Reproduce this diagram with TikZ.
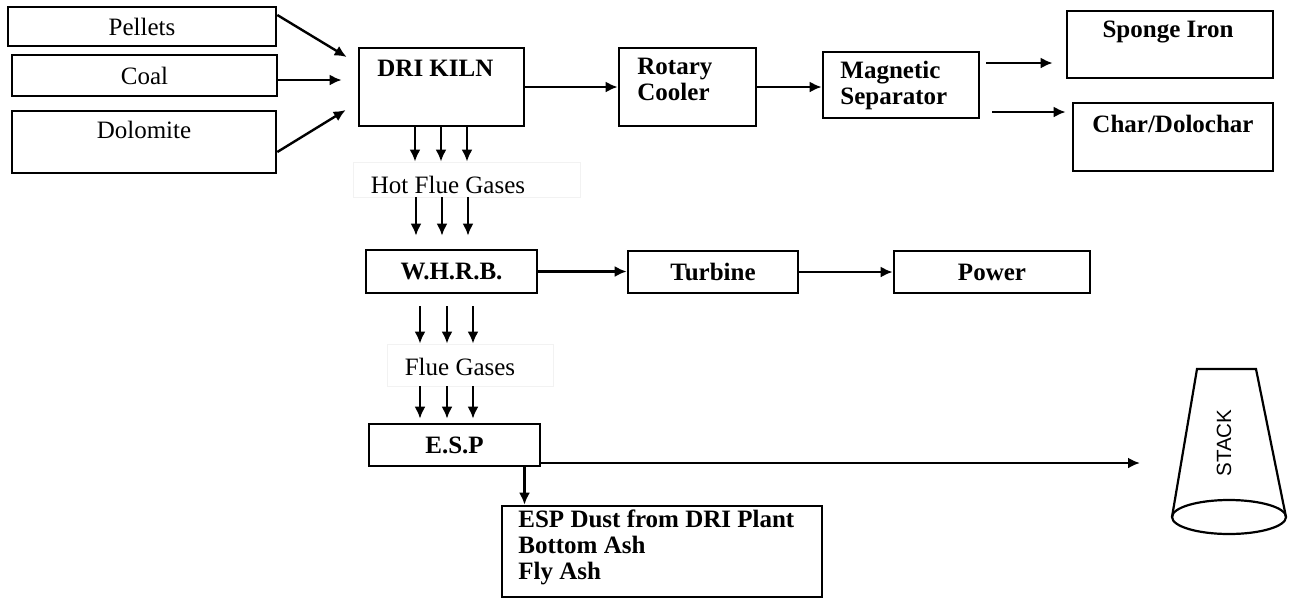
\documentclass[tikz,border=0pt]{standalone}
\usepackage{fontspec}
\setmainfont{Liberation Serif}
\setsansfont{Liberation Sans}
\usetikzlibrary{arrows.meta}

\begin{document}
\begin{tikzpicture}[
    x=0.5pt, y=-0.5pt,
    box/.style={draw, line width=1.3pt, inner sep=0pt},
    faint/.style={draw=black!5, inner sep=0pt},
    txt/.style={inner sep=0pt, font=\fontsize{12.5}{13}\selectfont},
    btxt/.style={inner sep=0pt, font=\fontsize{12.5}{13}\selectfont\bfseries},
    flow/.style={-{Latex[length=6pt, width=5.5pt]}, line width=1.2pt}
]
    \useasboundingbox (0,0) rectangle (1292,601);

    % Raw materials
    \node[box, txt, minimum width=134pt, minimum height=19.5pt] (pellets) at (142,26.5) {Pellets};
    \node[box, txt, minimum width=132.5pt, minimum height=20.5pt] (coal) at (144.5,75.5) {Coal};
    \node[box, minimum width=132pt, minimum height=31pt] (dolomite) at (144,142) {};
    \node[txt] (dolomite-t) at (144,130) {Dolomite};

    % Kiln line
    \node[box, minimum width=82.5pt, minimum height=39pt] (kiln) at (441.5,87) {};
    \node[btxt, anchor=west] (kiln-t) at (377,68) {DRI KILN};
    \node[box, minimum width=68.5pt, minimum height=39pt] (cooler) at (687.5,87) {};
    \node[btxt, anchor=west, align=left] (cooler-t) at (637,79.5) {Rotary\\Cooler};
    \node[box, minimum width=78pt, minimum height=33pt] (magsep) at (901,85) {};
    \node[btxt, anchor=west, align=left] (magsep-t) at (840,85) {Magnetic\\Separator};
    \node[box, minimum width=103pt, minimum height=33.5pt] (sponge) at (1170,44.5) {};
    \node[btxt] (sponge-t) at (1168,32) {Sponge Iron};
    \node[box, minimum width=100pt, minimum height=34pt] (char) at (1173,137) {};
    \node[btxt] (char-t) at (1173,124) {Char/Dolochar};

    % Gas line
    \node[faint, minimum width=113.5pt, minimum height=17.5pt] (hotgas) at (466.5,179.5) {};
    \node[txt] (hotgas-t) at (448,185) {Hot Flue Gases};
    \node[box, btxt, minimum width=85.5pt, minimum height=21.5pt] (whrb) at (451.5,271.5) {W.H.R.B.};
    \node[box, btxt, minimum width=85pt, minimum height=21pt] (turbine) at (713,272) {Turbine};
    \node[box, btxt, minimum width=98pt, minimum height=21pt] (power) at (992,272) {Power};
    \node[faint, minimum width=83pt, minimum height=21pt] (fluegas) at (470,365) {};
    \node[txt] (fluegas-t) at (460,367) {Flue Gases};
    \node[box, btxt, minimum width=85.5pt, minimum height=21pt] (esp) at (454.5,445) {E.S.P};
    \node[box, minimum width=160pt, minimum height=45.5pt] (dust) at (662,551.5) {};
    \node[btxt, anchor=west, align=left] (dust-t) at (518,547) {ESP Dust from DRI Plant\\Bottom Ash\\Fly Ash};

    % Stack
    \draw[line width=1.1pt] (1172,517) -- (1197,369) -- (1256,369) -- (1286,517);
    \draw[line width=1.1pt] (1229,517) ellipse [x radius=28.5pt, y radius=8.5pt];
    \node[inner sep=0pt, rotate=90, font=\sffamily\fontsize{10.3}{12}\selectfont] (stack) at (1224,443) {STACK};
    \coordinate (stackin) at (1140,463);

    % Flows
    \draw[flow] ([yshift=5.75pt]pellets.east) -- ([xshift=-5.5pt, yshift=15pt]kiln.west);
    \draw[flow] ([yshift=-2.25pt]coal.east) -- ([xshift=-8pt, yshift=3.5pt]kiln.west);
    \draw[flow] ([yshift=-5pt]dolomite.east) -- ([xshift=-6pt, yshift=-11.5pt]kiln.west);
    \draw[flow] (kiln.east) -- (cooler.west);
    \draw[flow] (cooler.east) -- (cooler.east -| magsep.west);
    \draw[flow] ([xshift=3pt, yshift=11pt]magsep.east) -- ([xshift=-6.5pt, yshift=-9.25pt]sponge.west);
    \draw[flow] ([xshift=6pt, yshift=-13.5pt]magsep.east) -- ([xshift=-3pt, yshift=12.5pt]char.west);

    \foreach \xx in {415,441,467}
        \draw[flow] (\xx,0 |- kiln.south) -- (\xx,0 |- hotgas.north);
    \foreach \xx in {416,442,468}
        \draw[flow, shorten >=6.5pt] (\xx,0 |- hotgas.south) -- (\xx,0 |- whrb.north);
    \draw[flow] (whrb.east) -- (whrb.east -| turbine.west);
    \draw[flow] (turbine.east) -- (turbine.east -| power.west);
    \foreach \xx in {420,447,473}
        \draw[flow, shorten <=6pt] (\xx,0 |- whrb.south) -- (\xx,0 |- fluegas.north);
    \foreach \xx in {420,447,473}
        \draw[flow, shorten >=2pt] (\xx,0 |- fluegas.south) -- (\xx,0 |- esp.north);
    \draw[flow] (esp.east |- stackin) -- (stackin);
    \draw[flow] ([xshift=35pt]esp.south) -- ([xshift=35pt]esp.south |- dust.north);

\end{tikzpicture}
\end{document}
